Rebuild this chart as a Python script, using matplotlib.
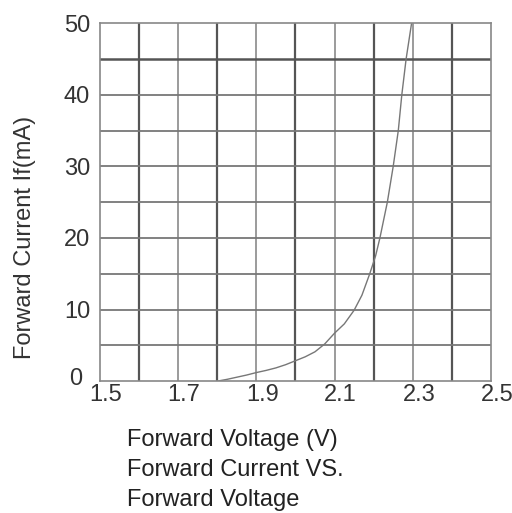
import matplotlib.pyplot as plt
import matplotlib.transforms as mtransforms
import numpy as np

# forward voltage (V) vs forward current (mA)
volt = [1.80, 1.825, 1.85, 1.875, 1.90, 1.925, 1.95, 1.975, 2.00, 2.025, 2.05, 2.075,
        2.10, 2.125, 2.15, 2.17, 2.19, 2.205, 2.216, 2.235, 2.25, 2.263, 2.272, 2.283, 2.297]
curr = [0.0, 0.25, 0.55, 0.85, 1.2, 1.5, 1.85, 2.3, 2.85, 3.4, 4.1, 5.2,
        6.7, 8.0, 9.9, 12.0, 15.0, 17.5, 20.0, 25.0, 30.0, 35.0, 40.0, 45.0, 50.0]

xticks = [1.5, 1.7, 1.9, 2.1, 2.3, 2.5]
yticks = [0, 10, 20, 30, 40, 50]
title_lines = ["Forward Voltage (V)", "Forward Current VS.", "Forward Voltage"]

plt.rcParams['font.family'] = ['Liberation Sans', 'DejaVu Sans']

fig = plt.figure(figsize=(5.12, 5.13), dpi=100)
ax = fig.add_axes([0.195, 0.257, 0.764, 0.698])

# grid every 0.1 V and every 5 mA
for v in np.arange(1.6, 2.45, 0.1):
    dark = round(v * 10) % 2 == 0
    ax.axvline(v, color='#555555' if dark else '#8a8a8a', lw=1.6 if dark else 1.2, zorder=1)
for i in range(5, 50, 5):
    ax.axhline(i, color='#555555' if i == 45 else '#777777', lw=1.8 if i == 45 else 1.3, zorder=1)

ax.plot(volt, curr, color='#777777', lw=1.0, zorder=2)

ax.set_xlim(1.5, 2.5)
ax.set_ylim(0, 50)
ax.set_xticks(xticks)
ax.set_xticklabels([str(t) for t in xticks])
ax.set_yticks(yticks)
ax.tick_params(length=0, labelsize=17, colors='#333333')
ax.tick_params(axis='x', pad=2)
ax.tick_params(axis='y', pad=7)
shift = mtransforms.ScaledTranslation(6 / 100, 0, fig.dpi_scale_trans)
for lab in ax.get_xticklabels():
    lab.set_transform(lab.get_transform() + shift)
# the "0" sits a bit left and up in the original
zero = ax.get_yticklabels()[0]
zero.set_transform(zero.get_transform() + mtransforms.ScaledTranslation(-8 / 100, 5 / 100, fig.dpi_scale_trans))
for s in ax.spines.values():
    s.set_color('#888888')
    s.set_linewidth(1.2)

ax.set_ylabel("Forward Current If(mA)", fontsize=17, color='#333333')
ax.yaxis.set_label_coords(-0.163, 0.40)

for k, line in enumerate(title_lines):
    fig.text(0.248, 0.142 - k * 0.058, line, fontsize=17, color='#222222', va='center', ha='left')

fig.savefig('out.png', dpi=100)
